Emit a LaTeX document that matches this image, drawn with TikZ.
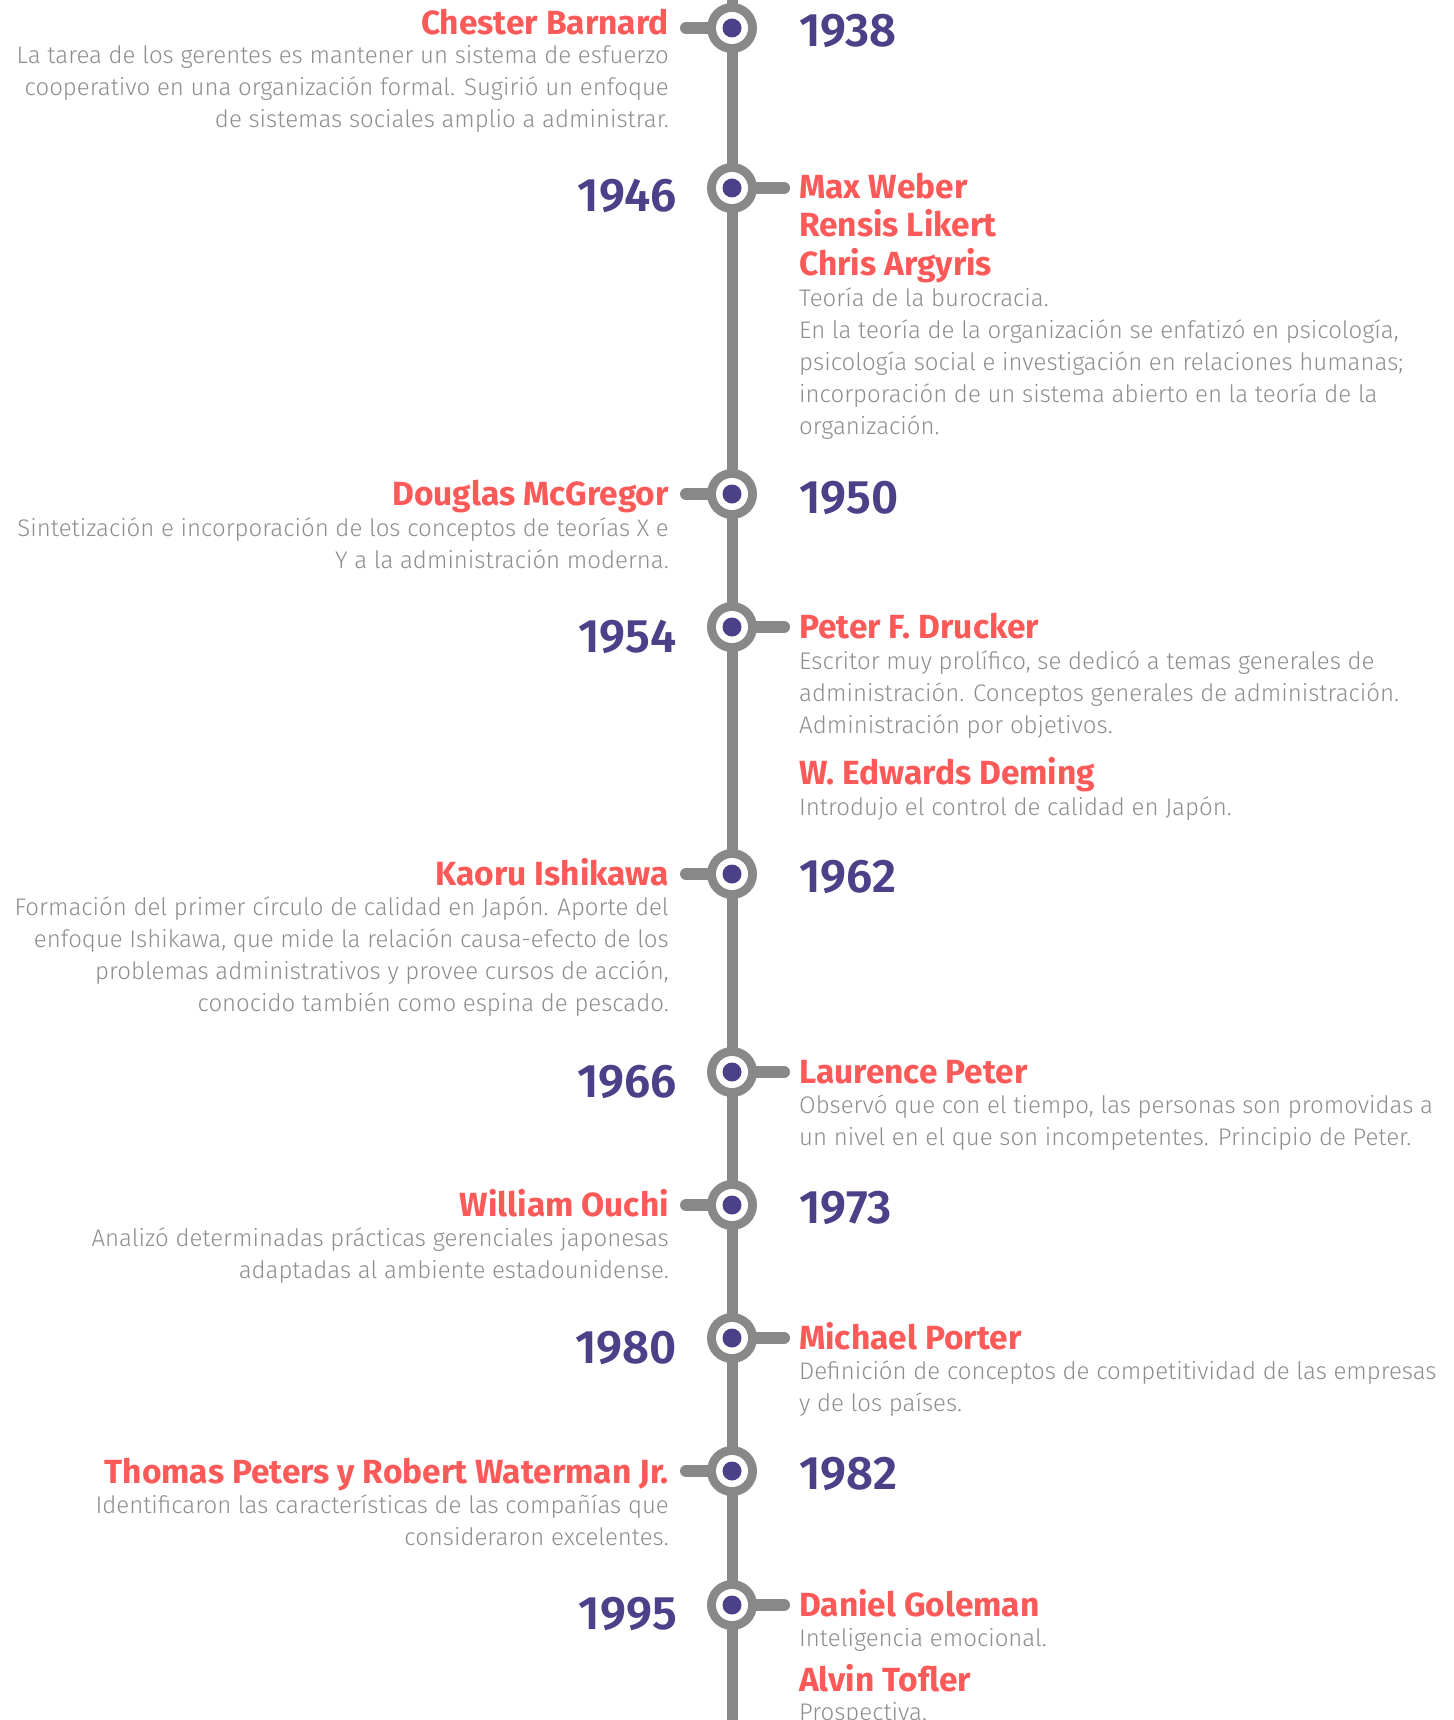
\documentclass[tikz,border=0pt]{standalone}
\usepackage{fontspec}
\setmainfont{Fira Sans}
\newfontfamily\descfont{Fira Sans Light}
\newfontfamily\yearfont{Fira Sans SemiBold}
\definecolor{spinecol}{HTML}{888888}
\definecolor{dotcol}{HTML}{4B4189}
\definecolor{yearcol}{HTML}{4B4189}
\definecolor{namecol}{HTML}{FC5959}
\definecolor{desccol}{HTML}{8E8E8E}
\tikzset{
  spine/.style={draw=spinecol, line width=11pt},
  stub/.style={draw=spinecol, line width=12pt, line cap=round},
  ring/.style={circle, fill=spinecol, minimum size=50pt, inner sep=0pt},
  hole/.style={circle, fill=white, minimum size=32pt, inner sep=0pt},
  dot/.style={circle, fill=dotcol, minimum size=19pt, inner sep=0pt},
  nm/.style={font=\fontsize{33.5}{38}\selectfont\bfseries, text=namecol, inner sep=0pt},
  yr/.style={font=\yearfont\fontsize{47}{52}\selectfont, text=yearcol, inner sep=0pt},
  ds/.style={font=\descfont\fontsize{24}{32}\selectfont, text=desccol, inner sep=0pt},
  L/.style={anchor=base east},
  R/.style={anchor=base west},
}
\newcommand\marker[3]{% id, y, stub end x
  \coordinate (c#1) at (732,#2);
  \coordinate (s#1) at (#3,#2);
  \draw[stub] (c#1) -- (s#1);
  \node[ring] (ring#1) at (c#1) {};
  \node[hole] (hole#1) at (c#1) {};
  \node[dot] (dot#1) at (c#1) {};
}
\begin{document}
\begin{tikzpicture}[x=1pt,y=-1pt]
\fill[white] (0,0) rectangle (1453,1720);
\useasboundingbox (0,0) rectangle (1453,1720);
\begin{scope}
\clip (0,0) rectangle (1453,1720);
\coordinate (top) at (732,-10);
\coordinate (bot) at (732,1730);
\draw[spine] (top) -- (bot);

% markers: left stubs end at 686, right stubs end at 784
\marker{1}{28}{686}
\marker{2}{188}{784}
\marker{3}{494}{686}
\marker{4}{627}{784}
\marker{5}{874}{686}
\marker{6}{1072}{784}
\marker{7}{1205}{686}
\marker{8}{1338}{784}
\marker{9}{1471}{686}
\marker{10}{1605}{784}

% 1938
\node[nm,L] (n1) at (669,35) {Chester Barnard};
\node[ds,L] (d1a) at (669,64) {La tarea de los gerentes es mantener un sistema de esfuerzo};
\node[ds,L] (d1b) at (669,96) {cooperativo en una organización formal. Sugirió un enfoque};
\node[ds,L] (d1c) at (669,128) {de sistemas sociales amplio a administrar.};
\node[yr,R] (y1) at (799,47) {1938};

% 1946
\node[yr,L] (y2) at (677,212) {1946};
\node[nm,R] (n2a) at (799,199) {Max Weber};
\node[nm,R] (n2b) at (799,237) {Rensis Likert};
\node[nm,R] (n2c) at (799,276) {Chris Argyris};
\node[ds,R] (d2a) at (799,306) {Teoría de la burocracia.};
\node[ds,R] (d2b) at (799,338) {En la teoría de la organización se enfatizó en psicología,};
\node[ds,R] (d2c) at (799,370) {psicología social e investigación en relaciones humanas;};
\node[ds,R] (d2d) at (799,402) {incorporación de un sistema abierto en la teoría de la};
\node[ds,R] (d2e) at (799,434) {organización.};

% 1950
\node[nm,L] (n3) at (669,505) {Douglas McGregor};
\node[ds,L] (d3a) at (669,536) {Sintetización e incorporación de los conceptos de teorías X e};
\node[ds,L] (d3b) at (669,568) {Y a la administración moderna.};
\node[yr,R] (y3) at (799,513) {1950};

% 1954
\node[yr,L] (y4) at (677,652) {1954};
\node[nm,R] (n4a) at (799,638) {Peter F. Drucker};
\node[ds,R] (d4a) at (799,669) {Escritor muy prolífico, se dedicó a temas generales de};
\node[ds,R] (d4b) at (799,701) {administración. Conceptos generales de administración.};
\node[ds,R] (d4c) at (799,733) {Administración por objetivos.};
\node[nm,R] (n4b) at (799,784) {W. Edwards Deming};
\node[ds,R] (d4d) at (799,815) {Introdujo el control de calidad en Japón.};

% 1962
\node[nm,L] (n5) at (669,885) {Kaoru Ishikawa};
\node[ds,L] (d5a) at (669,915) {Formación del primer círculo de calidad en Japón. Aporte del};
\node[ds,L] (d5b) at (669,947) {enfoque Ishikawa, que mide la relación causa-efecto de los};
\node[ds,L] (d5c) at (669,979) {problemas administrativos y provee cursos de acción,};
\node[ds,L] (d5d) at (669,1011) {conocido también como espina de pescado.};
\node[yr,R] (y5) at (799,892) {1962};

% 1966
\node[yr,L] (y6) at (677,1097) {1966};
\node[nm,R] (n6) at (799,1083) {Laurence Peter};
\node[ds,R] (d6a) at (799,1113) {Observó que con el tiempo, las personas son promovidas a};
\node[ds,R] (d6b) at (799,1145) {un nivel en el que son incompetentes. Principio de Peter.};

% 1973
\node[nm,L] (n7) at (669,1216) {William Ouchi};
\node[ds,L] (d7a) at (669,1246) {Analizó determinadas prácticas gerenciales japonesas};
\node[ds,L] (d7b) at (669,1278) {adaptadas al ambiente estadounidense.};
\node[yr,R] (y7) at (799,1223) {1973};

% 1980
\node[yr,L] (y8) at (677,1363) {1980};
\node[nm,R] (n8) at (799,1349) {Michael Porter};
\node[ds,R] (d8a) at (799,1379) {Definición de conceptos de competitividad de las empresas};
\node[ds,R] (d8b) at (799,1411) {y de los países.};

% 1982
\node[nm,L] (n9) at (669,1483) {Thomas Peters y Robert Waterman Jr.};
\node[ds,L] (d9a) at (669,1513) {Identificaron las características de las compañías que};
\node[ds,L] (d9b) at (669,1545) {consideraron excelentes.};
\node[yr,R] (y9) at (799,1489) {1982};

% 1995
\node[yr,L] (y10) at (677,1629) {1995};
\node[nm,R] (n10a) at (799,1616) {Daniel Goleman};
\node[ds,R] (d10a) at (799,1646) {Inteligencia emocional.};
\node[nm,R] (n10b) at (799,1691) {Alvin Tofler};
\node[ds,R] (d10b) at (799,1720) {Prospectiva.};
\end{scope}
\end{tikzpicture}
\end{document}
